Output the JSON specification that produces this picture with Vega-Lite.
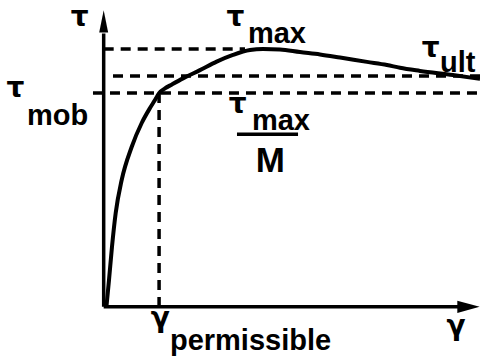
{
  "$schema": "https://vega.github.io/schema/vega-lite/v6.json",
  "width": 480,
  "height": 361,
  "autosize": "none",
  "padding": 0,
  "background": "white",
  "config": {"view": {"stroke": null}},
  "datasets": {
    "curve": [
      {"gamma": 0.05, "tau": 0.0},
      {"gamma": 0.097, "tau": 0.104},
      {"gamma": 0.151, "tau": 0.232},
      {"gamma": 0.219, "tau": 0.364},
      {"gamma": 0.328, "tau": 0.492},
      {"gamma": 0.51, "tau": 0.62},
      {"gamma": 0.693, "tau": 0.713},
      {"gamma": 0.844, "tau": 0.771},
      {"gamma": 0.935, "tau": 0.802},
      {"gamma": 1.01, "tau": 0.829},
      {"gamma": 1.117, "tau": 0.847},
      {"gamma": 1.245, "tau": 0.8625},
      {"gamma": 1.446, "tau": 0.886},
      {"gamma": 1.755, "tau": 0.918},
      {"gamma": 2.06, "tau": 0.951},
      {"gamma": 2.357, "tau": 0.977},
      {"gamma": 2.667, "tau": 0.996},
      {"gamma": 2.904, "tau": 1.0},
      {"gamma": 3.214, "tau": 0.998},
      {"gamma": 3.578, "tau": 0.988},
      {"gamma": 3.943, "tau": 0.979},
      {"gamma": 4.308, "tau": 0.967},
      {"gamma": 4.8, "tau": 0.95},
      {"gamma": 5.164, "tau": 0.938},
      {"gamma": 5.401, "tau": 0.927},
      {"gamma": 5.766, "tau": 0.915},
      {"gamma": 6.367, "tau": 0.899},
      {"gamma": 6.86, "tau": 0.884}
    ],
    "guides": [
      {"name": "tau_max", "g1": 0.0, "t1": 1.0, "g2": 2.576, "t2": 1.0},
      {"name": "tau_ult", "g1": 0.17, "t1": 0.895, "g2": 6.86, "t2": 0.895},
      {"name": "tau_mob", "g1": -0.195, "t1": 0.829, "g2": 6.86, "t2": 0.829},
      {"name": "gamma_perm", "g1": 1.01, "t1": 0.829, "g2": 1.01, "t2": 0.0}
    ],
    "solid": [
      {"name": "tau_axis", "g1": 0.0, "t1": 0.0, "g2": 0.0, "t2": 1.06},
      {"name": "gamma_axis", "g1": 0.0, "t1": 0.0, "g2": 6.55, "t2": 0.0},
      {"name": "fraction_bar", "g1": 2.43, "t1": 0.669, "g2": 3.543, "t2": 0.669}
    ],
    "arrows": [
      {"dir": "up", "gamma": 0.0, "tau": 1.107},
      {"dir": "right", "gamma": 6.65, "tau": 0.0}
    ],
    "labels": [
      {"text": "τ", "gamma": -0.6, "tau": 1.09},
      {"text": "τ", "gamma": -1.77, "tau": 0.814},
      {"text": "mob", "gamma": -1.398, "tau": 0.705},
      {"text": "τ", "gamma": 2.24, "tau": 1.09},
      {"text": "max", "gamma": 2.63, "tau": 1.023},
      {"text": "τ", "gamma": 2.28, "tau": 0.752},
      {"text": "max", "gamma": 2.703, "tau": 0.686},
      {"text": "M", "gamma": 2.77, "tau": 0.523},
      {"text": "τ", "gamma": 5.8, "tau": 0.969},
      {"text": "ult", "gamma": 6.13, "tau": 0.911},
      {"text": "γ", "gamma": 6.25, "tau": -0.109},
      {"text": "γ", "gamma": 0.86, "tau": -0.078},
      {"text": "permissible", "gamma": 1.208, "tau": -0.167}
    ]
  },
  "layer": [
    {
      "data": {"name": "guides"},
      "mark": {"type": "rule", "color": "black", "strokeWidth": 3.5, "strokeDash": [10, 7]},
      "encoding": {
        "x": {"field": "g1", "type": "quantitative", "scale": {"domain": [-1.89, 6.86], "nice": false, "zero": false}, "axis": null},
        "x2": {"field": "g2"},
        "y": {"field": "t1", "type": "quantitative", "scale": {"domain": [-0.21, 1.19], "nice": false, "zero": false}, "axis": null},
        "y2": {"field": "t2"}
      }
    },
    {
      "data": {"name": "solid"},
      "mark": {"type": "rule", "color": "black", "strokeWidth": 3.5},
      "encoding": {
        "x": {"field": "g1", "type": "quantitative", "scale": {"domain": [-1.89, 6.86], "nice": false, "zero": false}, "axis": null},
        "x2": {"field": "g2"},
        "y": {"field": "t1", "type": "quantitative", "scale": {"domain": [-0.21, 1.19], "nice": false, "zero": false}, "axis": null},
        "y2": {"field": "t2"}
      }
    },
    {
      "data": {"name": "curve"},
      "mark": {"type": "line", "color": "black", "strokeWidth": 4, "interpolate": "monotone"},
      "encoding": {
        "x": {"field": "gamma", "type": "quantitative", "scale": {"domain": [-1.89, 6.86], "nice": false, "zero": false}, "axis": null},
        "y": {"field": "tau", "type": "quantitative", "scale": {"domain": [-0.21, 1.19], "nice": false, "zero": false}, "axis": null},
        "order": {"field": "gamma"}
      }
    },
    {
      "data": {"name": "arrows"},
      "mark": {"type": "point", "filled": true, "color": "black", "opacity": 1, "size": 500},
      "encoding": {
        "x": {"field": "gamma", "type": "quantitative", "scale": {"domain": [-1.89, 6.86], "nice": false, "zero": false}, "axis": null},
        "y": {"field": "tau", "type": "quantitative", "scale": {"domain": [-0.21, 1.19], "nice": false, "zero": false}, "axis": null},
        "shape": {
          "field": "dir",
          "type": "nominal",
          "scale": {"domain": ["up", "right"], "range": ["M0,-1L0.4,1L-0.4,1Z", "M1,0L-1,-0.55L-1,0.55Z"]},
          "legend": null
        }
      }
    },
    {
      "data": {"name": "labels"},
      "transform": [{"filter": "datum.text === 'τ' || datum.text === 'γ'"}],
      "mark": {"type": "text", "font": "DejaVu Sans", "fontWeight": "bold", "fontSize": 28, "align": "left", "baseline": "alphabetic", "color": "black"},
      "encoding": {
        "x": {"field": "gamma", "type": "quantitative", "scale": {"domain": [-1.89, 6.86], "nice": false, "zero": false}, "axis": null},
        "y": {"field": "tau", "type": "quantitative", "scale": {"domain": [-0.21, 1.19], "nice": false, "zero": false}, "axis": null},
        "text": {"field": "text"}
      }
    },
    {
      "data": {"name": "labels"},
      "transform": [{"filter": "datum.text !== 'τ' && datum.text !== 'γ'"}],
      "mark": {"type": "text", "font": "Liberation Sans", "fontWeight": "bold", "align": "left", "baseline": "alphabetic", "color": "black"},
      "encoding": {
        "x": {"field": "gamma", "type": "quantitative", "scale": {"domain": [-1.89, 6.86], "nice": false, "zero": false}, "axis": null},
        "y": {"field": "tau", "type": "quantitative", "scale": {"domain": [-0.21, 1.19], "nice": false, "zero": false}, "axis": null},
        "text": {"field": "text"},
        "size": {"condition": {"test": "datum.text === 'M'", "value": 35}, "value": 29}
      }
    }
  ]
}
